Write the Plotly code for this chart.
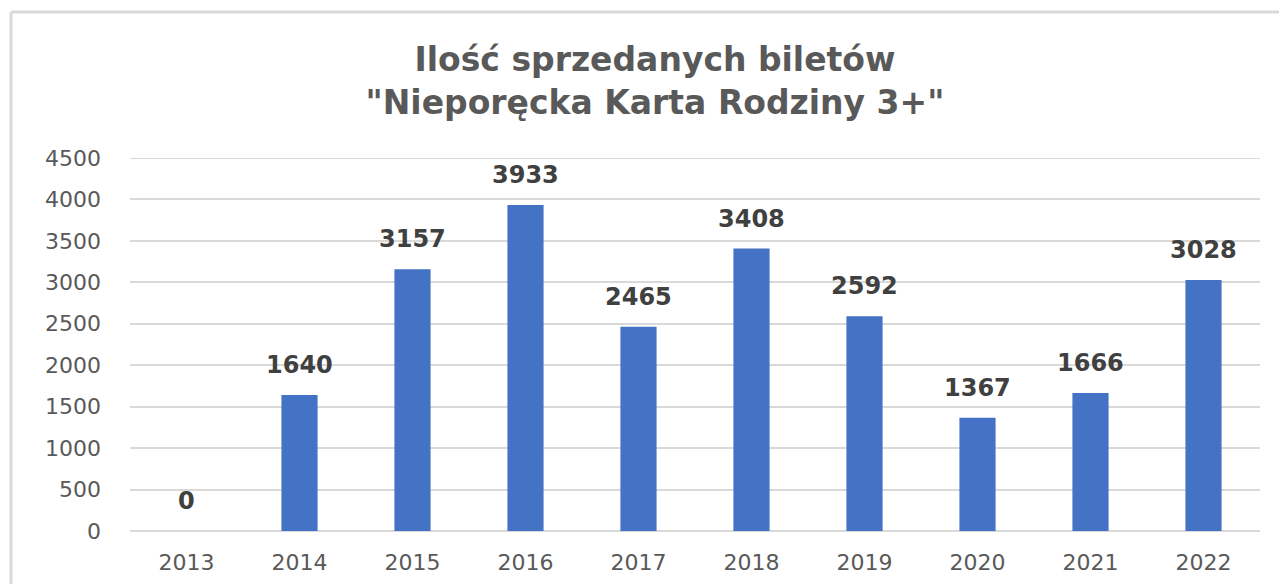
import plotly.graph_objects as go

years = [2013, 2014, 2015, 2016, 2017, 2018, 2019, 2020, 2021, 2022]
tickets = [0, 1640, 3157, 3933, 2465, 3408, 2592, 1367, 1666, 3028]
y_ticks = [0, 500, 1000, 1500, 2000, 2500, 3000, 3500, 4000, 4500]

FONT = "DejaVu Sans"

fig = go.Figure()
fig.add_trace(go.Bar(
    x=years, y=tickets,
    marker=dict(color="#4472C4", line=dict(width=0)),
    width=0.32,
    hoverinfo="x+y",
))

for x, v in zip(years, tickets):
    fig.add_annotation(
        x=x, y=v, text=f"<b>{v}</b>", showarrow=False,
        yanchor="bottom", yshift=14,
        font=dict(family=FONT, size=24, color="#404040"),
    )

fig.update_layout(
    width=1287, height=584,
    paper_bgcolor="white", plot_bgcolor="white",
    margin=dict(l=122, r=35, t=150, b=61),
    showlegend=False,
    title=dict(
        text="<b>Ilość sprzedanych biletów<br>\"Nieporęcka Karta Rodziny 3+\"</b>",
        x=0.5027, xanchor="center", y=0.892, yanchor="middle",
        font=dict(family=FONT, size=33, color="#595959"),
    ),
    xaxis=dict(
        type="linear", range=[years[0] - 0.5, years[-1] + 0.5],
        tickvals=years, ticktext=[str(y) for y in years],
        showgrid=False, showline=False, ticks="", zeroline=False,
        tickfont=dict(family=FONT, size=22, color="#595959"),
        ticklabelstandoff=16,
    ),
    yaxis=dict(
        range=[0, 4500], tickvals=y_ticks,
        showgrid=True, gridcolor="#D9D9D9", gridwidth=2,
        zeroline=True, zerolinecolor="#D9D9D9", zerolinewidth=2,
        showline=False, ticks="",
        tickfont=dict(family=FONT, size=22, color="#595959"),
        ticklabelstandoff=28,
    ),
    shapes=[
        dict(type="line", xref="paper", yref="y", x0=0, x1=1, y0=4500, y1=4500,
             line=dict(color="#D9D9D9", width=2), layer="below"),
        dict(type="line", xref="paper", yref="paper", x0=-0.1053, x1=1.1, y0=1.3914, y1=1.3914,
             line=dict(color="#D9D9D9", width=3)),
        dict(type="line", xref="paper", yref="paper", x0=-0.1053, x1=-0.1053, y0=-0.3, y1=1.3914,
             line=dict(color="#D9D9D9", width=3)),
    ],
)

fig.write_html("out.html")
